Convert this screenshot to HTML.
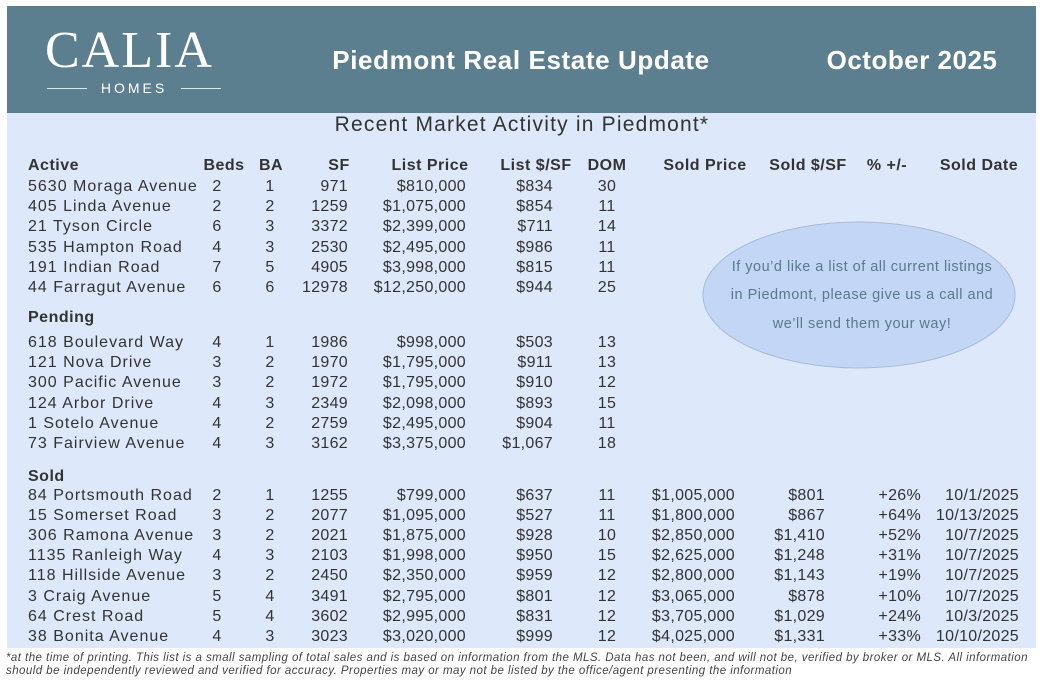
<!DOCTYPE html>
<html><head><meta charset="utf-8">
<style>
body{margin:0;width:1044px;height:680px;background:#fff;overflow:hidden;font-family:"Liberation Sans",sans-serif;color:#333;position:relative}
#hdr{position:absolute;left:7px;top:6px;width:1029px;height:107px;background:#5c7f90}
#body{position:absolute;left:7px;top:113px;width:1029px;height:535px;background:#dde8fb}
.t{position:absolute;height:20px;line-height:20px;font-size:16px;white-space:nowrap;letter-spacing:0.3px}
.b{font-weight:bold;letter-spacing:0.5px}
.n{letter-spacing:1px}
</style></head><body>
<div id="hdr"></div>
<div id="body"></div>
<div style="position:absolute;left:45px;top:24px;font-family:'Liberation Serif',serif;font-size:52px;color:#fff;letter-spacing:2px;line-height:54px">CALIA</div>
<div style="position:absolute;left:47px;top:80px;width:174px;height:16px;color:#fff;font-size:14px;letter-spacing:3px;text-align:center;line-height:16px">
<span style="position:absolute;left:0;top:8px;width:40px;border-top:1px solid #dfe8ec"></span>HOMES<span style="position:absolute;right:0;top:8px;width:40px;border-top:1px solid #dfe8ec"></span></div>
<div style="position:absolute;left:271px;width:500px;top:44px;text-align:center;color:#fff;font-weight:bold;font-size:26px;letter-spacing:0.6px;line-height:32px">Piedmont Real Estate Update</div>
<div style="position:absolute;left:800px;width:224px;top:44px;text-align:center;color:#fff;font-weight:bold;font-size:26px;letter-spacing:0.5px;line-height:32px">October 2025</div>
<div style="position:absolute;left:222px;width:600px;top:112px;text-align:center;font-size:21px;letter-spacing:1.2px;line-height:26px;color:#333">Recent Market Activity in Piedmont*</div>
<svg style="position:absolute;left:0;top:0" width="1044" height="680">
<ellipse cx="859" cy="295" rx="156" ry="73" fill="#c4d6f5" stroke="#a9bcd4" stroke-width="1"/>
<text x="862" y="271" text-anchor="middle" font-size="14.5" letter-spacing="0.5" fill="#5a7a8a" font-family="Liberation Sans">If you’d like a list of all current listings</text>
<text x="862" y="299" text-anchor="middle" font-size="14.5" letter-spacing="0.5" fill="#5a7a8a" font-family="Liberation Sans">in Piedmont, please give us a call and</text>
<text x="862" y="328" text-anchor="middle" font-size="14.5" letter-spacing="0.5" fill="#5a7a8a" font-family="Liberation Sans">we’ll send them your way!</text>
</svg>
<div style="position:absolute;left:6px;top:652px;font-size:11.5px;letter-spacing:0.45px;font-style:italic;color:#444;line-height:13px;width:1040px;white-space:nowrap">*at the time of printing. This list is a small sampling of total sales and is based on information from the MLS. Data has not been, and will not be, verified by broker or MLS. All information<br>should be independently reviewed and verified for accuracy. Properties may or may not be listed by the office/agent presenting the information</div>
<div id="tbl"></div>
<script>
var headers=["Active","Beds","BA","SF","List Price","List $/SF","DOM","Sold Price","Sold $/SF","% +/-","Sold Date"];
var headerX=[28,224,271,339,430,536,607,705,808,887,979];
var activeRows=[
["5630 Moraga Avenue","2","1","971","$810,000","$834","30"],
["405 Linda Avenue","2","2","1259","$1,075,000","$854","11"],
["21 Tyson Circle","6","3","3372","$2,399,000","$711","14"],
["535 Hampton Road","4","3","2530","$2,495,000","$986","11"],
["191 Indian Road","7","5","4905","$3,998,000","$815","11"],
["44 Farragut Avenue","6","6","12978","$12,250,000","$944","25"]];
var pendingRows=[
["618 Boulevard Way","4","1","1986","$998,000","$503","13"],
["121 Nova Drive","3","2","1970","$1,795,000","$911","13"],
["300 Pacific Avenue","3","2","1972","$1,795,000","$910","12"],
["124 Arbor Drive","4","3","2349","$2,098,000","$893","15"],
["1 Sotelo Avenue","4","2","2759","$2,495,000","$904","11"],
["73 Fairview Avenue","4","3","3162","$3,375,000","$1,067","18"]];
var soldRows=[
["84 Portsmouth Road","2","1","1255","$799,000","$637","11","$1,005,000","$801","+26%","10/1/2025"],
["15 Somerset Road","3","2","2077","$1,095,000","$527","11","$1,800,000","$867","+64%","10/13/2025"],
["306 Ramona Avenue","3","2","2021","$1,875,000","$928","10","$2,850,000","$1,410","+52%","10/7/2025"],
["1135 Ranleigh Way","4","3","2103","$1,998,000","$950","15","$2,625,000","$1,248","+31%","10/7/2025"],
["118 Hillside Avenue","3","2","2450","$2,350,000","$959","12","$2,800,000","$1,143","+19%","10/7/2025"],
["3 Craig Avenue","5","4","3491","$2,795,000","$801","12","$3,065,000","$878","+10%","10/7/2025"],
["64 Crest Road","5","4","3602","$2,995,000","$831","12","$3,705,000","$1,029","+24%","10/3/2025"],
["38 Bonita Avenue","4","3","3023","$3,020,000","$999","12","$4,025,000","$1,331","+33%","10/10/2025"]];
var colX=[28,217,270,348,466,553,607,735,825,921,1019];
var colAlign=["l","c","c","r","r","r","c","r","r","r","r"];
var root=document.getElementById('tbl');
function put(txt,x,y,al,cls,name){
  var d=document.createElement('div');
  d.className='t'+cls;
  d.textContent=txt;
  
  
  d.style.top=(y-10)+'px';
  if(al==='l'){d.style.left=x+'px';}
  else if(al==='r'){d.style.right=(1044-x)+'px';}
  else {d.style.left=(x-60)+'px';d.style.width='120px';d.style.textAlign='center';}
  root.appendChild(d);
}
headers.forEach(function(h,i){put(h,headerX[i],166,i===0?'l':'c',' b','column-header');});
put("Pending",28,318,'l',' b','section-label');
put("Sold",28,477,'l',' b','section-label');
function rows(arr,y0,step){
  arr.forEach(function(r,ri){
    r.forEach(function(v,ci){
      put(v,colX[ci],Math.round(y0+ri*step),colAlign[ci],ci===0?' n':'','table-cell');
    });
  });
}
rows(activeRows,187,20.2);
rows(pendingRows,343,20.2);
rows(soldRows,496,20.1);
</script>
</body></html>
